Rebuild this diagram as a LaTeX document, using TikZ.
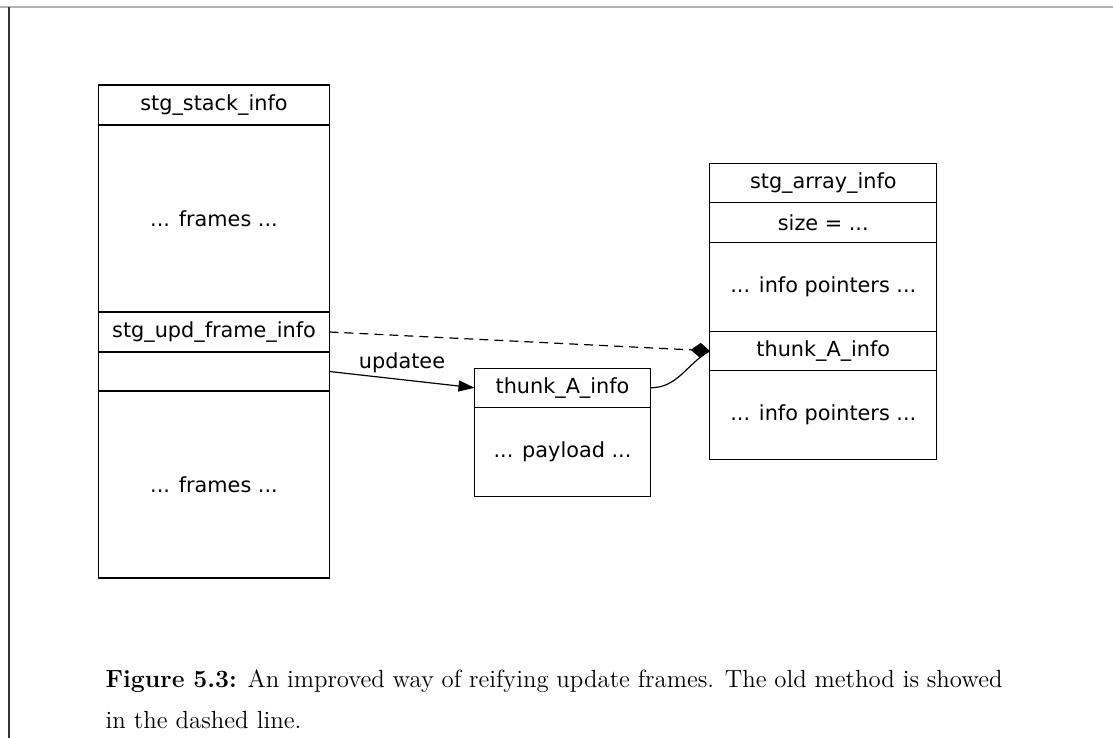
\documentclass[tikz,border=0pt]{standalone}
\usepackage{fontspec}
\usepackage{tikz}
\usetikzlibrary{arrows.meta,positioning}

\newfontfamily\dejavu{DejaVu Sans}

\begin{document}
\begin{tikzpicture}
  [
    x=0.5pt, y=-0.5pt,
    >={Triangle[length=8pt,width=5.5pt]},
    line width=0.6pt,
    field/.style={rectangle, draw, inner sep=0pt, outer sep=0pt,
      font=\dejavu\fontsize{10.4}{12}\selectfont},
    stack field/.style={field, minimum width=115.5pt},
    array field/.style={field, minimum width=113.5pt},
    thunk field/.style={field, minimum width=88pt}
    ]

  \useasboundingbox (0,0) rectangle (1113,738);
  \draw[gray!60] (0,7) -- (1113,7);
  \draw[black!80] (9,7) -- (9,738);

  % stack
  \node [stack field, minimum height=20pt, anchor=north] (s1) at (214,85) {stg\_stack\_info};
  \node [stack field, minimum height=93.5pt] (s2) [below=0pt of s1] {... frames ...};
  \node [stack field, minimum height=20pt] (s3) [below=0pt of s2] {stg\_upd\_frame\_info};
  \node [stack field, minimum height=19.5pt] (s4) [below=0pt of s3] {};
  \node [stack field, minimum height=93.5pt] (s5) [below=0pt of s4] {... frames ...};

  % thunk
  \node [thunk field, minimum height=19.5pt, anchor=north] (t1) at (562.5,368.3) {thunk\_A\_info};
  \node [thunk field, minimum height=44.5pt] (t2) [below=0pt of t1] {... payload ...};

  % array
  \node [array field, minimum height=19.5pt, anchor=north] (a1) at (823.3,163.3) {stg\_array\_info};
  \node [array field, minimum height=20pt] (a2) [below=0pt of a1] {size = ...};
  \node [array field, minimum height=44.5pt] (a3) [below=0pt of a2] {... info pointers ...};
  \node [array field, minimum height=19.5pt] (a4) [below=0pt of a3] {thunk\_A\_info};
  \node [array field, minimum height=44.5pt] (a5) [below=0pt of a4] {... info pointers ...};

  \draw [->] (s4.east) -- node [above, font=\dejavu\fontsize{10.4}{12}\selectfont] {updatee} (t1.west);
  \draw (t1.east) to [out=0, in=210] (a4.west);
  \draw [dash pattern=on 4.5pt off 3pt, -{Turned Square[length=9.5pt,width=7.5pt]}] (s3.east) -- (a4.west);

  \node [anchor=base west, inner sep=0pt, text width=448.5pt, align=justify,
    font=\fontsize{12.4}{20.5}\selectfont] (cap) at (105,687)
    {\textbf{Figure 5.3:} An improved way of reifying update frames. The old method is showed\linebreak in the dashed line.};
\end{tikzpicture}
\end{document}
